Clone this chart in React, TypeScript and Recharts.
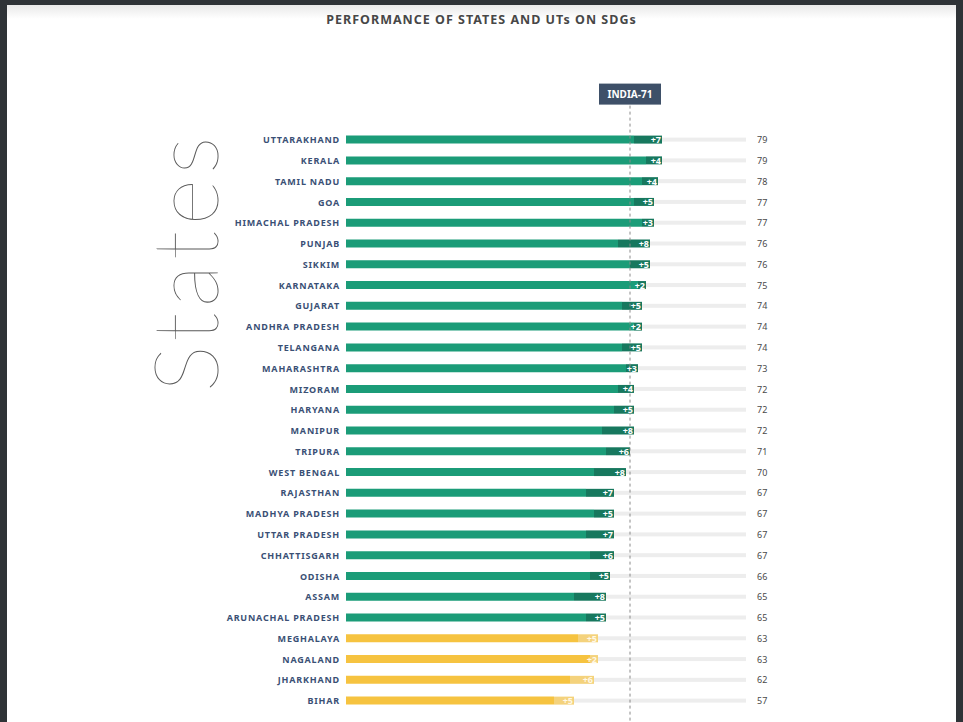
import React from 'react';
import {
  BarChart, Bar, XAxis, YAxis, Cell, LabelList, ReferenceLine,
} from 'recharts';

const STATES = [
  'UTTARAKHAND', 'KERALA', 'TAMIL NADU', 'GOA', 'HIMACHAL PRADESH', 'PUNJAB', 'SIKKIM',
  'KARNATAKA', 'GUJARAT', 'ANDHRA PRADESH', 'TELANGANA', 'MAHARASHTRA', 'MIZORAM',
  'HARYANA', 'MANIPUR', 'TRIPURA', 'WEST BENGAL', 'RAJASTHAN', 'MADHYA PRADESH',
  'UTTAR PRADESH', 'CHHATTISGARH', 'ODISHA', 'ASSAM', 'ARUNACHAL PRADESH',
  'MEGHALAYA', 'NAGALAND', 'JHARKHAND', 'BIHAR',
];
const SCORES = [79, 79, 78, 77, 77, 76, 76, 75, 74, 74, 74, 73, 72, 72, 72, 71, 70, 67, 67, 67, 67, 66, 65, 65, 63, 63, 62, 57];
const CHANGES = [7, 4, 4, 5, 3, 8, 5, 2, 5, 2, 5, 3, 4, 5, 8, 6, 8, 7, 5, 7, 6, 5, 8, 5, 5, 2, 6, 5];
const INDIA_SCORE = 71;
const FRONT_RUNNER_MIN = 65;

const GREEN = '#1b9c78';
const GREEN_DARK = '#17785e';
const YELLOW = '#f6c340';
const YELLOW_LIGHT = '#f4d27c';
const LABEL_FONT = '"Noto Sans", "DejaVu Sans", sans-serif';

const data = STATES.map((name, i) => ({
  name,
  score: SCORES[i],
  base: SCORES[i] - CHANGES[i],
  change: CHANGES[i],
  front: SCORES[i] >= FRONT_RUNNER_MIN,
}));

const renderTrack = (p: any) => (
  <rect x={p.x} y={p.y + 2} width={p.width} height={Math.max(p.height - 4, 1)} fill="#ededed" />
);

const renderChange = (p: any) => {
  const { x, y, width, height, value, index } = p;
  const front = data[index]?.front;
  return (
    <text
      x={x + width - 1}
      y={y + height / 2}
      textAnchor="end"
      dominantBaseline="central"
      fontSize={9}
      fontWeight={700}
      fontFamily={LABEL_FONT}
      fill={front ? '#ffffff' : '#fff8e6'}
    >
      {`+${value}`}
    </text>
  );
};

// line runs from under the INDIA box down past the last bar
const renderIndiaLine = (p: any) => {
  const top = Math.min(p.y1, p.y2);
  const bottom = Math.max(p.y1, p.y2);
  const x = p.x1;
  return (
    <g>
      <line x1={x} y1={top - 24} x2={x} y2={bottom + 14} stroke="#8a8a8a" strokeWidth={1} strokeDasharray="3 3" />
      <rect x={x - 31} y={top - 46} width={62} height={21} fill="#3e5068" />
      <text x={x} y={top - 35.5} textAnchor="middle" dominantBaseline="central" fontSize={10}
        fontWeight={700} fontFamily={LABEL_FONT} fill="#ffffff">
        {`INDIA-${INDIA_SCORE}`}
      </text>
    </g>
  );
};

export default function App() {
  return (
    <div style={{ position: 'absolute', left: 0, top: 0, width: 963, height: 722, background: '#2f3337', overflow: 'hidden' }}>
      <div style={{
        position: 'absolute', left: 7, top: 5, width: 949, height: 717,
        background: 'linear-gradient(#e9e9e9 0px, #ffffff 14px)',
      }} />
      <div style={{
        position: 'absolute', left: 0, top: 11, width: 963, textAlign: 'center',
        fontFamily: LABEL_FONT, fontWeight: 700, fontSize: 12.5, letterSpacing: 1, color: '#474747',
      }}>
        PERFORMANCE OF STATES AND UTs ON SDGs
      </div>
      <div style={{
        position: 'absolute', left: 183, top: 262, transform: 'translate(-50%, -50%) rotate(-90deg)',
        fontFamily: 'Lato, "Open Sans", sans-serif', fontWeight: 100, fontSize: 90, lineHeight: 1,
        letterSpacing: 5, color: '#5a5a5a', whiteSpace: 'nowrap',
      }}>
        States
      </div>
      <div style={{ position: 'absolute', left: 0, top: 0 }}>
        <BarChart
          width={963}
          height={722}
          data={data}
          layout="vertical"
          margin={{ top: 129.6, right: 0, bottom: 10.6, left: 0 }}
        >
          <XAxis type="number" domain={[0, 100]} hide />
          <YAxis
            type="category"
            dataKey="name"
            width={346}
            interval={0}
            tickSize={0}
            tickMargin={6}
            axisLine={false}
            tickLine={false}
            tick={{ fontSize: 9, fontWeight: 700, fill: '#3a5075', fontFamily: LABEL_FONT, letterSpacing: 0.8 }}
          />
          <YAxis
            yAxisId="right"
            orientation="right"
            type="category"
            dataKey="score"
            width={217}
            interval={0}
            tickSize={0}
            tickMargin={11}
            axisLine={false}
            tickLine={false}
            tick={{ fontSize: 9, fill: '#4a4a4a', fontFamily: LABEL_FONT }}
          />
          <Bar dataKey="base" stackId="s" barSize={8} background={renderTrack} isAnimationActive={false}>
            {data.map((d) => (
              <Cell key={d.name} fill={d.front ? GREEN : YELLOW} />
            ))}
          </Bar>
          <Bar dataKey="change" stackId="s" barSize={8} isAnimationActive={false}>
            {data.map((d) => (
              <Cell key={d.name} fill={d.front ? GREEN_DARK : YELLOW_LIGHT} />
            ))}
            <LabelList dataKey="change" content={renderChange} />
          </Bar>
          <ReferenceLine x={INDIA_SCORE} shape={renderIndiaLine} />
        </BarChart>
      </div>
    </div>
  );
}
